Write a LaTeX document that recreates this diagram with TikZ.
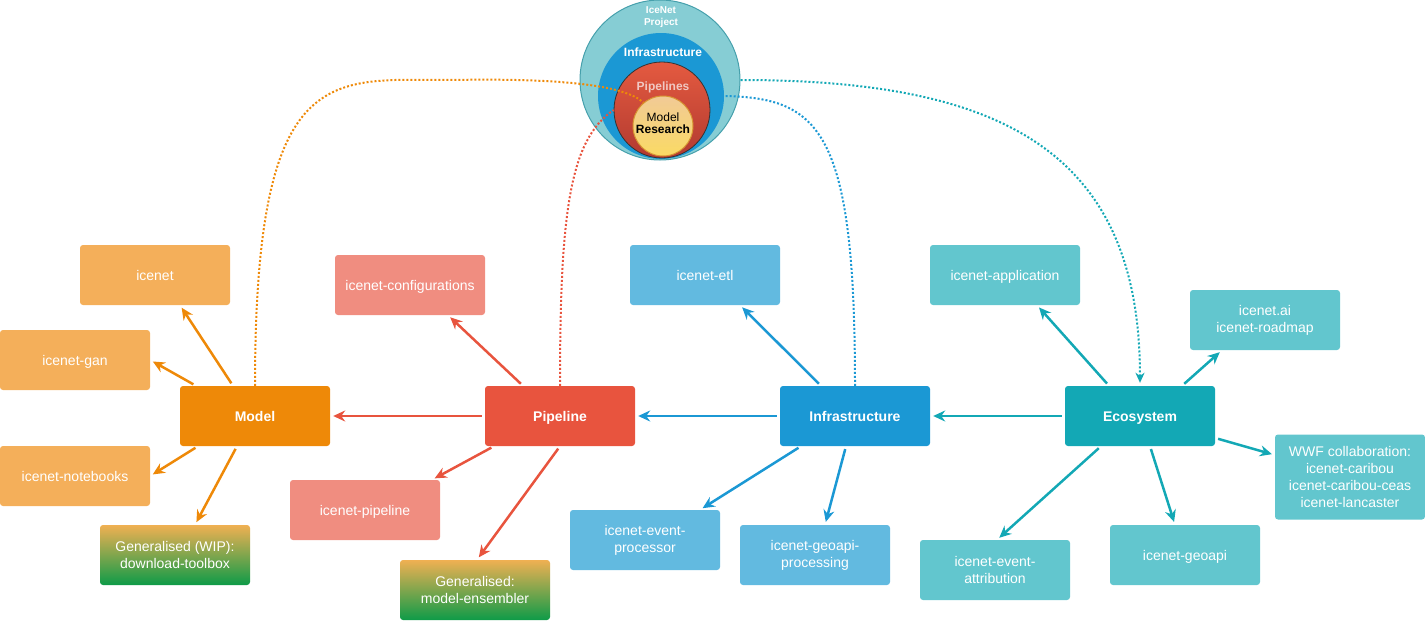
\documentclass[tikz,border=0pt]{standalone}
\usepackage{fontspec}
\setmainfont{Liberation Sans}
\usetikzlibrary{arrows.meta}

\definecolor{modelc}{RGB}{238,137,8}
\definecolor{modell}{RGB}{244,175,90}
\definecolor{pipec}{RGB}{232,84,62}
\definecolor{pipel}{RGB}{240,141,128}
\definecolor{infrac}{RGB}{27,152,212}
\definecolor{infral}{RGB}{98,186,224}
\definecolor{ecoc}{RGB}{19,168,181}
\definecolor{ecol}{RGB}{98,198,206}
\definecolor{gentop}{RGB}{240,176,82}
\definecolor{genbot}{RGB}{14,155,72}
\definecolor{projc}{RGB}{134,205,212}
\definecolor{projd}{RGB}{70,160,172}

\tikzstyle{group}=[rectangle, rounded corners=3pt, text=white, font=\fontsize{14}{17}\selectfont\bfseries,
    minimum width=150pt, minimum height=60pt, align=center, inner sep=2pt, text height=10pt, text depth=0pt]
\tikzstyle{repo} = [group, font=\fontsize{14}{17}\selectfont]
\tikzstyle{stack} = [repo, text height=, text depth=]
\tikzstyle{general} = [stack, top color=gentop, bottom color=genbot]
\tikzstyle{ring} = [circle, inner sep=0pt]
\tikzstyle{link} = [line width=2.5pt, -{Stealth[length=12pt,width=11pt,inset=4pt]}, shorten <=3pt, shorten >=3pt]
\tikzstyle{trace} = [line width=2pt, dash pattern=on 2pt off 2pt]

\begin{document}
\begin{tikzpicture}[x=1pt, y=-1pt]
	\useasboundingbox (0,0) rectangle (1425,621);
	% Define the nodes in the picture
	\node (model) [group, fill=modelc] at (255,416) {Model};
	\node (pipe) [group, fill=pipec, node distance=305pt, right of=model] {Pipeline};
	\node (infra) [group, fill=infrac, node distance=295pt, right of=pipe] {Infrastructure};
	\node (eco) [group, fill=ecoc, node distance=285pt, right of=infra] {Ecosystem};

	\node (model_net) [repo, fill=modell, node distance=100pt, left of=model, yshift=141pt] {icenet};
	\node (model_gan) [repo, fill=modell, node distance=180pt, left of=model, yshift=56pt] {icenet-gan};
	\node (model_nb) [repo, fill=modell, node distance=180pt, left of=model, yshift=-60pt] {icenet-notebooks};
	\node (model_gen) [general, node distance=80pt, left of=model, yshift=-139pt] {Generalised (WIP):\\download-toolbox};

	\node (pipe_cfg) [repo, fill=pipel, node distance=150pt, left of=pipe, yshift=131pt] {icenet-configurations};
	\node (pipe_run) [repo, fill=pipel, node distance=195pt, left of=pipe, yshift=-94pt] {icenet-pipeline};
	\node (pipe_gen) [general, node distance=85pt, left of=pipe, yshift=-174pt] {Generalised:\\model-ensembler};

	\node (infra_etl) [repo, fill=infral, node distance=150pt, left of=infra, yshift=141pt] {icenet-etl};
	\node (infra_evp) [stack, fill=infral, node distance=210pt, left of=infra, yshift=-124pt] {icenet-event-\\processor};
	\node (infra_geo) [stack, fill=infral, node distance=40pt, left of=infra, yshift=-139pt] {icenet-geoapi-\\processing};

	\node (eco_app) [repo, fill=ecol, node distance=135pt, left of=eco, yshift=141pt] {icenet-application};
	\node (eco_web) [stack, fill=ecol, node distance=125pt, right of=eco, yshift=96pt] {icenet.ai\\icenet-roadmap};
	\node (eco_wwf) [stack, fill=ecol, node distance=210pt, right of=eco, yshift=-61pt, minimum height=85pt]
	    {WWF collaboration:\\icenet-caribou\\icenet-caribou-ceas\\icenet-lancaster};
	\node (eco_att) [stack, fill=ecol, node distance=145pt, left of=eco, yshift=-154pt] {icenet-event-\\attribution};
	\node (eco_geo) [repo, fill=ecol, node distance=45pt, right of=eco, yshift=-139pt] {icenet-geoapi};

	% Define the project rings
	\node (proj) [ring, minimum size=160pt, fill=projc, draw=projd, line width=1pt] at (660,80) {};
	\node (infcirc) [ring, minimum size=126pt, fill=infrac] at (661,96) {};
	\node (pipes) [ring, minimum size=96pt, top color={rgb,255:red,228;green,90;blue,64},
	    bottom color={rgb,255:red,178;green,58;blue,48}, draw=black!80, line width=0.8pt] at (662,110) {};
	\node (research) [ring, minimum size=60pt, top color={rgb,255:red,241;green,202;blue,150},
	    bottom color={rgb,255:red,250;green,218;blue,100}, draw={rgb,255:red,215;green,150;blue,50},
	    line width=1pt] at (663,126) {};
	\node (proj_txt) [text=white, align=center, font=\fontsize{10}{12}\selectfont\bfseries] at (661,17) {IceNet\\Project};
	\node (infcirc_txt) [text=white, font=\fontsize{12}{12}\selectfont\bfseries] at (663,52) {Infrastructure};
	\node (pipes_txt) [text={rgb,255:red,240;green,200;blue,195}, font=\fontsize{12}{12}\selectfont\bfseries] at (663,87) {Pipelines};
	\node (research_txt) [align=center, font=\fontsize{12}{12}\selectfont] at (663,123) {Model\\\textbf{Research}};

	% Define the edges in the picture
	\draw [link, modelc] ([xshift=-22pt]model.north) -- ([xshift=25pt]model_net.south);
	\draw [link, modelc] ([xshift=-59pt]model.north) -- (model_gan.east);
	\draw [link, modelc] ([xshift=-57pt]model.south) -- (model_nb.east);
	\draw [link, modelc] ([xshift=-18pt]model.south) -- ([xshift=20pt]model_gen.north);

	\draw [link, pipec] (pipe.west) -- (model.east);
	\draw [link, pipec] ([xshift=-37pt]pipe.north) -- ([xshift=38pt]pipe_cfg.south);
	\draw [link, pipec] ([xshift=-66pt]pipe.south) -- ([xshift=67pt]pipe_run.north);
	\draw [link, pipec] (pipe.south) -- ([xshift=2pt]pipe_gen.north);

	\draw [link, infrac] (infra.west) -- (pipe.east);
	\draw [link, infrac] ([xshift=-34pt]infra.north) -- ([xshift=35pt]infra_etl.south);
	\draw [link, infrac] ([xshift=-54pt]infra.south) -- ([xshift=55pt]infra_evp.north);
	\draw [link, infrac] ([xshift=-9pt]infra.south) -- ([xshift=10pt]infra_geo.north);

	\draw [link, ecoc] (eco.west) -- (infra.east);
	\draw [link, ecoc] ([xshift=-31pt]eco.north) -- ([xshift=32pt]eco_app.south);
	\draw [link, ecoc] ([xshift=42pt]eco.north) -- ([xshift=-43pt]eco_web.south);
	\draw [link, ecoc] ([yshift=-22pt]eco.east) -- ([yshift=22pt]eco_wwf.west);
	\draw [link, ecoc] ([xshift=-39pt]eco.south) -- ([xshift=2pt]eco_att.north);
	\draw [link, ecoc] ([xshift=10pt]eco.south) -- ([xshift=-10pt]eco_geo.north);

	% dotted links to the project rings
	\draw [trace, modelc] (model.north) .. controls (255,60) and (330,80) .. (450,80)
	    .. controls (560,78) and (625,85) .. (research.130);
	\draw [trace, pipec] (pipe.north) .. controls (560,210) and (570,140) .. (pipes.west);
	\draw [trace, infrac] (infra.north) .. controls (855,130) and (820,98) .. (infcirc.east);
	\draw [trace, ecoc, -{Stealth[length=10pt,width=9pt,inset=3pt]}, shorten >=3pt]
	    (proj.east) .. controls (1000,80) and (1140,150) .. (eco.north);
\end{tikzpicture}
\end{document}
